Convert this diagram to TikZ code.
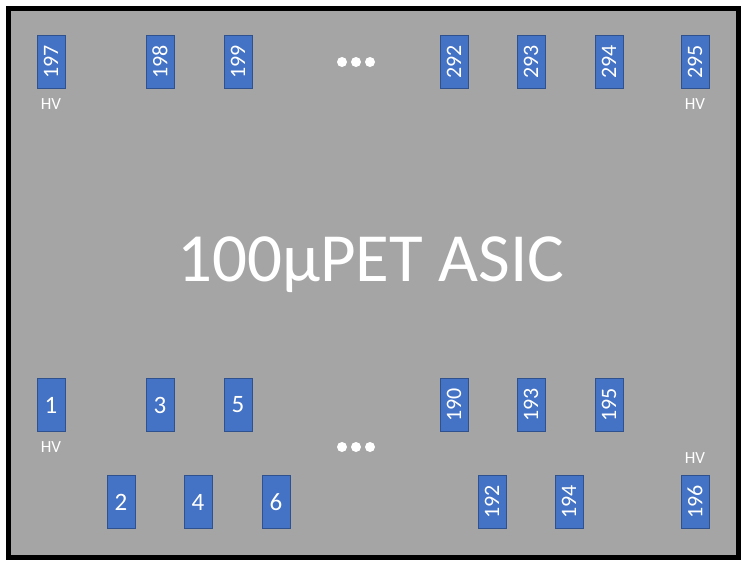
\documentclass[tikz,border=0pt]{standalone}
\usepackage{fontspec}
\setmainfont{Carlito}
\usetikzlibrary{positioning}
\definecolor{chipgray}{HTML}{A5A5A5}
\definecolor{padblue}{HTML}{4472C4}
\definecolor{padedge}{HTML}{2F528F}
\tikzset{
x=1pt, y=-1pt, % one unit is one pixel of the sketch, y runs down
pad/.style={draw=padedge, line width=1pt, fill=padblue, minimum width=28pt, minimum height=53pt, inner sep=0pt, text=white, font=\fontsize{22}{22}\selectfont}, % a contact pad
bigpad/.style={pad, font=\fontsize{25}{25}\selectfont}, % a pad with a one digit number
hv/.style={text=white, inner sep=0pt, font=\fontsize{17}{17}\selectfont}, % high voltage mark
}

\begin{document}
\begin{tikzpicture}
\useasboundingbox (0,0) rectangle (748,568);
\draw[line width=5pt, fill=chipgray] (8.5,8) rectangle (738.5,557.5);
\node[text=white, inner sep=0pt, font=\fontsize{69}{69}\selectfont] (asic) at (371,265) {100μPET ASIC};

% top row
\node[pad] (p197) at (51,62) {\rotatebox{90}{197}};
\node[pad, node distance=109pt, right of=p197] (p198) {\rotatebox{90}{198}};
\node[pad, node distance=78pt, right of=p198] (p199) {\rotatebox{90}{199}};
\node[pad, node distance=216pt, right of=p199] (p292) {\rotatebox{90}{292}};
\node[pad, node distance=77pt, right of=p292] (p293) {\rotatebox{90}{293}};
\node[pad, node distance=78pt, right of=p293] (p294) {\rotatebox{90}{294}};
\node[pad, node distance=86pt, right of=p294] (p295) {\rotatebox{90}{295}};
\node[hv, below=9pt of p197] (hv197) {HV};
\node[hv, below=9pt of p295] (hv295) {HV};

% bottom row, upper line
\node[bigpad] (p1) at (51,405) {1};
\node[bigpad, node distance=109pt, right of=p1] (p3) {3};
\node[bigpad, node distance=78pt, right of=p3] (p5) {5};
\node[pad, node distance=216pt, right of=p5] (p190) {\rotatebox{90}{190}};
\node[pad, node distance=77pt, right of=p190] (p193) {\rotatebox{90}{193}};
\node[pad, node distance=78pt, right of=p193] (p195) {\rotatebox{90}{195}};
\node[hv, below=9pt of p1] (hv1) {HV};

% bottom row, lower line
\node[bigpad] (p2) at (121,502) {2};
\node[bigpad, node distance=77pt, right of=p2] (p4) {4};
\node[bigpad, node distance=78pt, right of=p4] (p6) {6};
\node[pad, node distance=216pt, right of=p6] (p192) {\rotatebox{90}{192}};
\node[pad, node distance=77pt, right of=p192] (p194) {\rotatebox{90}{194}};
\node[pad, node distance=126pt, right of=p194] (p196) {\rotatebox{90}{196}};
\node[hv, above=11pt of p196] (hv196) {HV};

% the pads left out
\foreach \x in {342,356,370} {
  \fill[white] (\x,62) circle (5pt);
  \fill[white] (\x,447) circle (5pt);
}
\end{tikzpicture}
\end{document}
